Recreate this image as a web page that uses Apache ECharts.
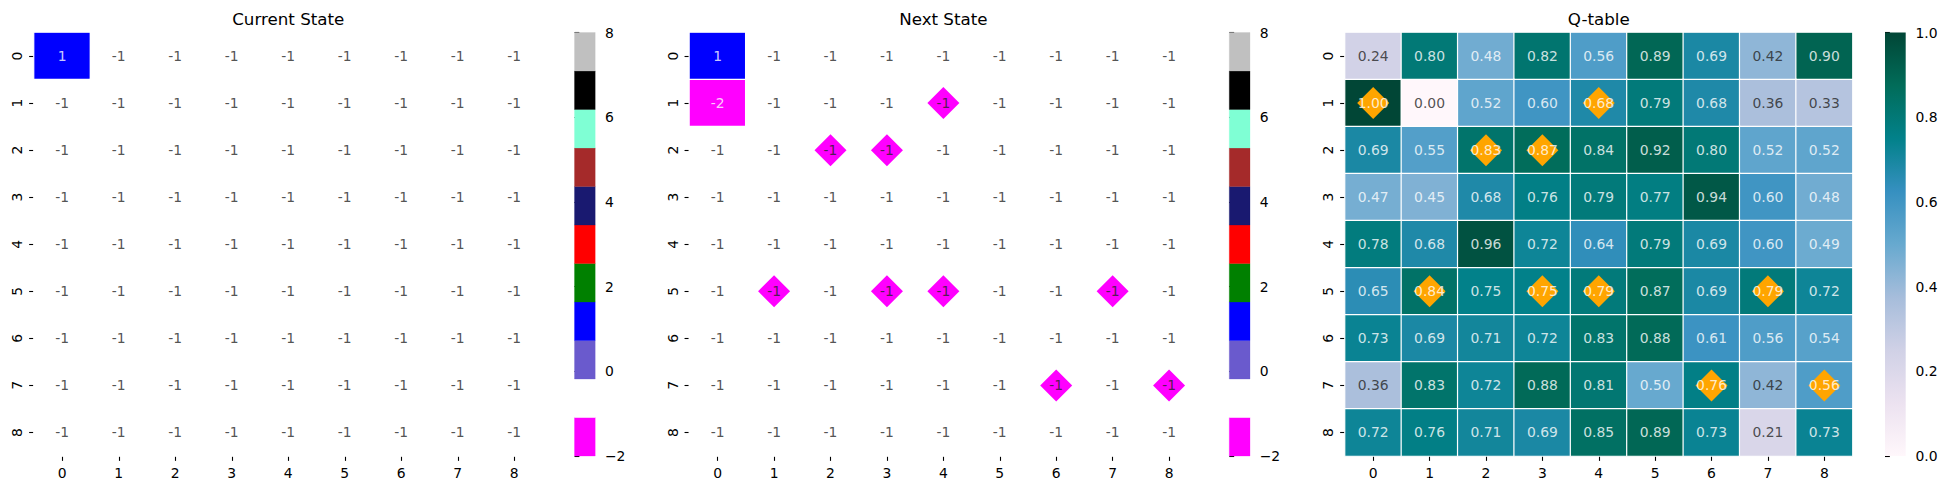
<!DOCTYPE html>
<html>
<head>
<meta charset="utf-8">
<script src="https://cdn.jsdelivr.net/npm/echarts@6/dist/echarts.min.js"></script>
<style>
html,body{margin:0;padding:0;background:#fff;}
#chart{width:1947px;height:490px;}
</style>
</head>
<body>
<div id="chart"></div>
<script>
// ---------------- DATA ----------------
const rowLabels = ['0','1','2','3','4','5','6','7','8'];
const colLabels = ['0','1','2','3','4','5','6','7','8'];

const currentState = [
  [ 1,-1,-1,-1,-1,-1,-1,-1,-1],
  [-1,-1,-1,-1,-1,-1,-1,-1,-1],
  [-1,-1,-1,-1,-1,-1,-1,-1,-1],
  [-1,-1,-1,-1,-1,-1,-1,-1,-1],
  [-1,-1,-1,-1,-1,-1,-1,-1,-1],
  [-1,-1,-1,-1,-1,-1,-1,-1,-1],
  [-1,-1,-1,-1,-1,-1,-1,-1,-1],
  [-1,-1,-1,-1,-1,-1,-1,-1,-1],
  [-1,-1,-1,-1,-1,-1,-1,-1,-1]
];

const nextState = [
  [ 1,-1,-1,-1,-1,-1,-1,-1,-1],
  [-2,-1,-1,-1,-1,-1,-1,-1,-1],
  [-1,-1,-1,-1,-1,-1,-1,-1,-1],
  [-1,-1,-1,-1,-1,-1,-1,-1,-1],
  [-1,-1,-1,-1,-1,-1,-1,-1,-1],
  [-1,-1,-1,-1,-1,-1,-1,-1,-1],
  [-1,-1,-1,-1,-1,-1,-1,-1,-1],
  [-1,-1,-1,-1,-1,-1,-1,-1,-1],
  [-1,-1,-1,-1,-1,-1,-1,-1,-1]
];

const qTable = [
  [0.24,0.80,0.48,0.82,0.56,0.89,0.69,0.42,0.90],
  [1.00,0.00,0.52,0.60,0.68,0.79,0.68,0.36,0.33],
  [0.69,0.55,0.83,0.87,0.84,0.92,0.80,0.52,0.52],
  [0.47,0.45,0.68,0.76,0.79,0.77,0.94,0.60,0.48],
  [0.78,0.68,0.96,0.72,0.64,0.79,0.69,0.60,0.49],
  [0.65,0.84,0.75,0.75,0.79,0.87,0.69,0.79,0.72],
  [0.73,0.69,0.71,0.72,0.83,0.88,0.61,0.56,0.54],
  [0.36,0.83,0.72,0.88,0.81,0.50,0.76,0.42,0.56],
  [0.72,0.76,0.71,0.69,0.85,0.89,0.73,0.21,0.73]
];

// marked cells [row, col]
const markedCells = [[1,0],[1,4],[2,2],[2,3],[5,1],[5,3],[5,4],[5,7],[7,6],[7,8]];

const titles = ['Current State','Next State','Q-table'];
const stateRange = [-2, 8];
const stateTickStep = 2;
const qRange = [0, 1];
const qTickStep = 0.2;

// ---------------- STYLES ----------------
const FONT = 'DejaVu Sans';
const stateColors = ['#FF00FF','#FFFFFF','#6A5ACD','#0000FF','#008000','#FF0000','#191970','#A52A2A','#7FFFD4','#000000','#C0C0C0'];
const qColors = ['#fff7fb','#ece2f0','#d0d1e6','#a6bddb','#67a9cf','#3690c0','#02818a','#016c59','#014636'];
const markerColors = [null, '#FF00FF', '#FFA500'];

const gridTop = 32.5, gridH = 423.5;
const panels = [
  {left: 34,     width: 508.5, cbLeft: 574.5},
  {left: 689.4,  width: 507.9, cbLeft: 1229.3},
  {left: 1345,   width: 507.5, cbLeft: 1885}
];
const cbWidth = 20.7;
const tickLen = 4.86;
const fs = 13.9;

// ---------------- HELPERS ----------------
function hexToRgb(h){ h=h.replace('#',''); return [parseInt(h.slice(0,2),16),parseInt(h.slice(2,4),16),parseInt(h.slice(4,6),16)]; }
function lerpStops(stops, t){
  const n = stops.length-1;
  const x = Math.min(Math.max(t,0),1)*n;
  const i = Math.min(Math.floor(x), n-1);
  const f = x-i;
  const a = hexToRgb(stops[i]), b = hexToRgb(stops[i+1]);
  return [0,1,2].map(k => a[k]+(b[k]-a[k])*f);
}
function textColorFor(rgb){
  const lin = c => { c/=255; return c<=0.03928 ? c/12.92 : Math.pow((c+0.055)/1.055,2.4); };
  const L = 0.2126*lin(rgb[0])+0.7152*lin(rgb[1])+0.0722*lin(rgb[2]);
  return L > 0.408 ? '#262626' : '#ffffff';
}
const binW = (stateRange[1]-stateRange[0])/stateColors.length;
function stateBin(v){ return Math.min(stateColors.length-1, Math.max(0, Math.floor((v-stateRange[0])/binW))); }
function stateTextColor(v){ return textColorFor(hexToRgb(stateColors[stateBin(v)])); }
function qTextColor(v){
  const idx = Math.min(255, Math.floor(v*256));
  return textColorFor(lerpStops(qColors, idx/255));
}
function minusFmt(v){ return v < 0 ? '\u2212' + Math.abs(v) : String(v); }

const matrices = [currentState, nextState, qTable];

// ---------------- OPTION ----------------
const grid = [], xAxis = [], yAxis = [], series = [], graphic = [];

panels.forEach((p, i) => {
  // heatmap grid
  grid.push({left: p.left, top: gridTop, width: p.width, height: gridH, containLabel: false});
  // colorbar grid
  grid.push({left: p.cbLeft, top: gridTop, width: cbWidth, height: gridH, containLabel: false});
});

const catAxisCommon = {
  axisLine: {show: false},
  axisTick: {show: true, alignWithLabel: true, interval: 0, length: tickLen, lineStyle: {color: '#000', width: 1.1}},
  splitLine: {show: false},
  splitArea: {show: false}
};

panels.forEach((p, i) => {
  const hg = 2*i, cg = 2*i+1;
  xAxis.push(Object.assign({type: 'category', gridIndex: hg, data: colLabels,
    axisLabel: {interval: 0, margin: 9.7, fontSize: fs, color: '#000', fontFamily: FONT}}, catAxisCommon));
  yAxis.push(Object.assign({type: 'category', gridIndex: hg, data: rowLabels, inverse: true,
    axisLabel: {interval: 0, rotate: 90, margin: 9.7, fontSize: fs, color: '#000', fontFamily: FONT}}, catAxisCommon));

  xAxis.push({type: 'value', gridIndex: cg, min: 0, max: 1, show: false});
  const isQ = i === 2;
  yAxis.push({type: 'value', gridIndex: cg, position: 'right',
    min: isQ ? qRange[0] : stateRange[0], max: isQ ? qRange[1] : stateRange[1],
    interval: isQ ? qTickStep : stateTickStep,
    axisLine: {show: false},
    axisTick: {show: true, length: tickLen, lineStyle: {color: '#000', width: 1.1}},
    splitLine: {show: false},
    axisLabel: {margin: 9.7, fontSize: fs, color: '#000', fontFamily: FONT,
      formatter: isQ ? (v => v.toFixed(1)) : (v => minusFmt(v))}
  });
});

// heatmap series
matrices.forEach((m, i) => {
  const data = [];
  m.forEach((row, r) => row.forEach((v, c) => data.push([c, r, v])));
  series.push({
    type: 'heatmap', name: 'heat'+i,
    xAxisIndex: 2*i, yAxisIndex: 2*i,
    data: data,
    itemStyle: {borderColor: '#ffffff', borderWidth: 1.2},
    label: {show: false},
    emphasis: {disabled: true},
    z: 1, silent: true
  });
});

// diamond markers (panels 2 and 3)
[1, 2].forEach(i => {
  series.push({
    type: 'scatter', xAxisIndex: 2*i, yAxisIndex: 2*i,
    symbol: 'diamond', symbolSize: 32,
    itemStyle: {color: markerColors[i], opacity: 1},
    data: markedCells.map(([r, c]) => [c, r]),
    z: 2, silent: true, animation: false
  });
});

// annotation labels
matrices.forEach((m, i) => {
  const isQ = i === 2;
  const data = [];
  m.forEach((row, r) => row.forEach((v, c) => data.push({
    value: [c, r, v],
    label: {color: isQ ? qTextColor(v) : stateTextColor(v)}
  })));
  series.push({
    type: 'scatter', xAxisIndex: 2*i, yAxisIndex: 2*i,
    symbol: 'rect', symbolSize: 1,
    itemStyle: {color: 'transparent'},
    label: {show: true, position: 'inside', fontSize: fs, fontFamily: FONT,
      formatter: prm => isQ ? prm.value[2].toFixed(2) : String(prm.value[2])},
    data: data, z: 3, silent: true, animation: false
  });
});

// colorbars
[0, 1].forEach(i => {
  series.push({
    type: 'custom', xAxisIndex: 2*i+1, yAxisIndex: 2*i+1,
    data: stateColors.map((col, k) => [k]),
    renderItem: (params, api) => {
      const k = api.value(0);
      const lo = stateRange[0] + k*binW, hi = lo + binW;
      const p1 = api.coord([0, hi]), p2 = api.coord([1, lo]);
      return {type: 'rect', shape: {x: p1[0], y: p1[1], width: p2[0]-p1[0], height: p2[1]-p1[1]},
        style: {fill: stateColors[k], stroke: stateColors[k], lineWidth: 0.3}};
    },
    silent: true, animation: false
  });
});
series.push({
  type: 'custom', xAxisIndex: 5, yAxisIndex: 5,
  data: [[0]],
  renderItem: (params, api) => {
    const p1 = api.coord([0, qRange[1]]), p2 = api.coord([1, qRange[0]]);
    const stops = qColors.map((c, k) => ({offset: k/(qColors.length-1), color: c}));
    return {type: 'rect', shape: {x: p1[0], y: p1[1], width: p2[0]-p1[0], height: p2[1]-p1[1]},
      style: {fill: new echarts.graphic.LinearGradient(0, 1, 0, 0, stops)}};
  },
  silent: true, animation: false
});

// titles
panels.forEach((p, i) => {
  graphic.push({type: 'text', x: p.left + p.width/2, y: 18.6, silent: true,
    style: {text: titles[i], fill: '#000', fontSize: 16.7, fontFamily: FONT,
      align: 'center', verticalAlign: 'middle', textAlign: 'center', textVerticalAlign: 'middle'}});
});

// visual maps
const pieces = stateColors.map((c, k) => {
  const lo = stateRange[0] + k*binW, hi = lo + binW;
  return k === stateColors.length-1 ? {gte: lo, lte: hi, color: c} : {gte: lo, lt: hi, color: c};
});

const option = {
  backgroundColor: '#ffffff',
  animation: false,
  textStyle: {fontFamily: FONT},
  grid, xAxis, yAxis, series, graphic,
  visualMap: [
    {type: 'piecewise', show: false, seriesIndex: [0, 1], dimension: 2, pieces: pieces},
    {type: 'continuous', show: false, seriesIndex: 2, dimension: 2, min: qRange[0], max: qRange[1], inRange: {color: qColors}}
  ]
};

const chart = echarts.init(document.getElementById('chart'), null, {renderer: 'svg'});
chart.setOption(option);
</script>
</body>
</html>
